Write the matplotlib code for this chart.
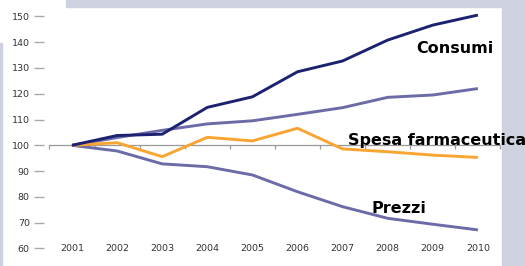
import numpy as np
import matplotlib
matplotlib.use("Agg")
import matplotlib.pyplot as plt
from matplotlib.patches import Rectangle

years = [2001, 2002, 2003, 2004, 2005, 2006, 2007, 2008, 2009, 2010]
consumi = [100, 103.8, 104.3, 114.7, 118.8, 128.5, 132.7, 140.8, 146.6, 150.5]
altro = [100, 103.0, 105.8, 108.3, 109.5, 112.0, 114.6, 118.6, 119.5, 122.0]
spesa = [100, 101.0, 95.6, 103.1, 101.7, 106.6, 98.6, 97.5, 96.2, 95.3]
prezzi = [100, 97.8, 92.8, 91.7, 88.5, 82.0, 76.2, 71.7, 69.4, 67.2]
yticks = [60, 70, 80, 90, 100, 110, 120, 130, 140, 150]

band = "#cdd1e0"
navy = "#1c2270"
purple = "#6b6ba8"
orange = "#f9a531"

W, H = 525, 266
fig = plt.figure(figsize=(W / 100, H / 100), dpi=100)

# decorative frame bands (behind the axes)
fig.patches.append(Rectangle((66 / W, 1 - 7 / H), 1, 7 / H, transform=fig.transFigure, color=band, zorder=-1))
fig.patches.append(Rectangle((502 / W, 0), 1, 1, transform=fig.transFigure, color=band, zorder=-1))
fig.patches.append(Rectangle((0, 0), 2 / W, 1 - 43 / H, transform=fig.transFigure, color=band, zorder=-1))

ax = fig.add_axes([44 / W, 1 - 258.8 / H, (503 - 44) / W, (258.8 - 8.6) / H])
ax.patch.set_alpha(0)
x = np.arange(1, len(years) + 1)
ax.set_xlim(0.379, 10.557)
ax.set_ylim(56, 153)

for s in ax.spines.values():
    s.set_visible(False)

# baseline at 100 with small ticks between years
ax.plot([0.5, len(years) + 0.5], [100, 100], color="#999999", lw=0.9, zorder=1)
edges = np.arange(0.5, len(years) + 1, 1)
ax.vlines(edges, 98.5, 100, color="#999999", lw=0.9, zorder=1)

ax.plot(x, altro, color=purple, lw=2.1, solid_capstyle="butt", zorder=2)
ax.plot(x, prezzi, color=purple, lw=2.1, solid_capstyle="butt", zorder=2)
ax.plot(x, spesa, color=orange, lw=2.1, solid_capstyle="butt", zorder=3)
ax.plot(x, consumi, color=navy, lw=2.1, solid_capstyle="butt", zorder=4)

ax.set_yticks(yticks)
ax.tick_params(axis="y", length=7.2, width=1, color="#aaaaaa", pad=3,
               labelsize=6.8, labelcolor="#333333")
ax.set_xticks([])
for xi, yr in zip(x, years):
    ax.text(xi, 60, str(yr), ha="center", va="center", fontsize=6.8, color="#333333")

def px2x(p):
    return (p - 72) / 45.1 + 1

ax.text(px2x(455), 135.8, "Consumi", ha="center", va="baseline",
        fontsize=11.5, fontweight="bold", color="black")
ax.text(px2x(437), 100.1, "Spesa farmaceutica", ha="center", va="baseline",
        fontsize=11.5, fontweight="bold", color="black", zorder=5, clip_on=False)
ax.text(px2x(399), 73.9, "Prezzi", ha="center", va="baseline",
        fontsize=11.5, fontweight="bold", color="black")

fig.savefig("out.png", dpi=100)
